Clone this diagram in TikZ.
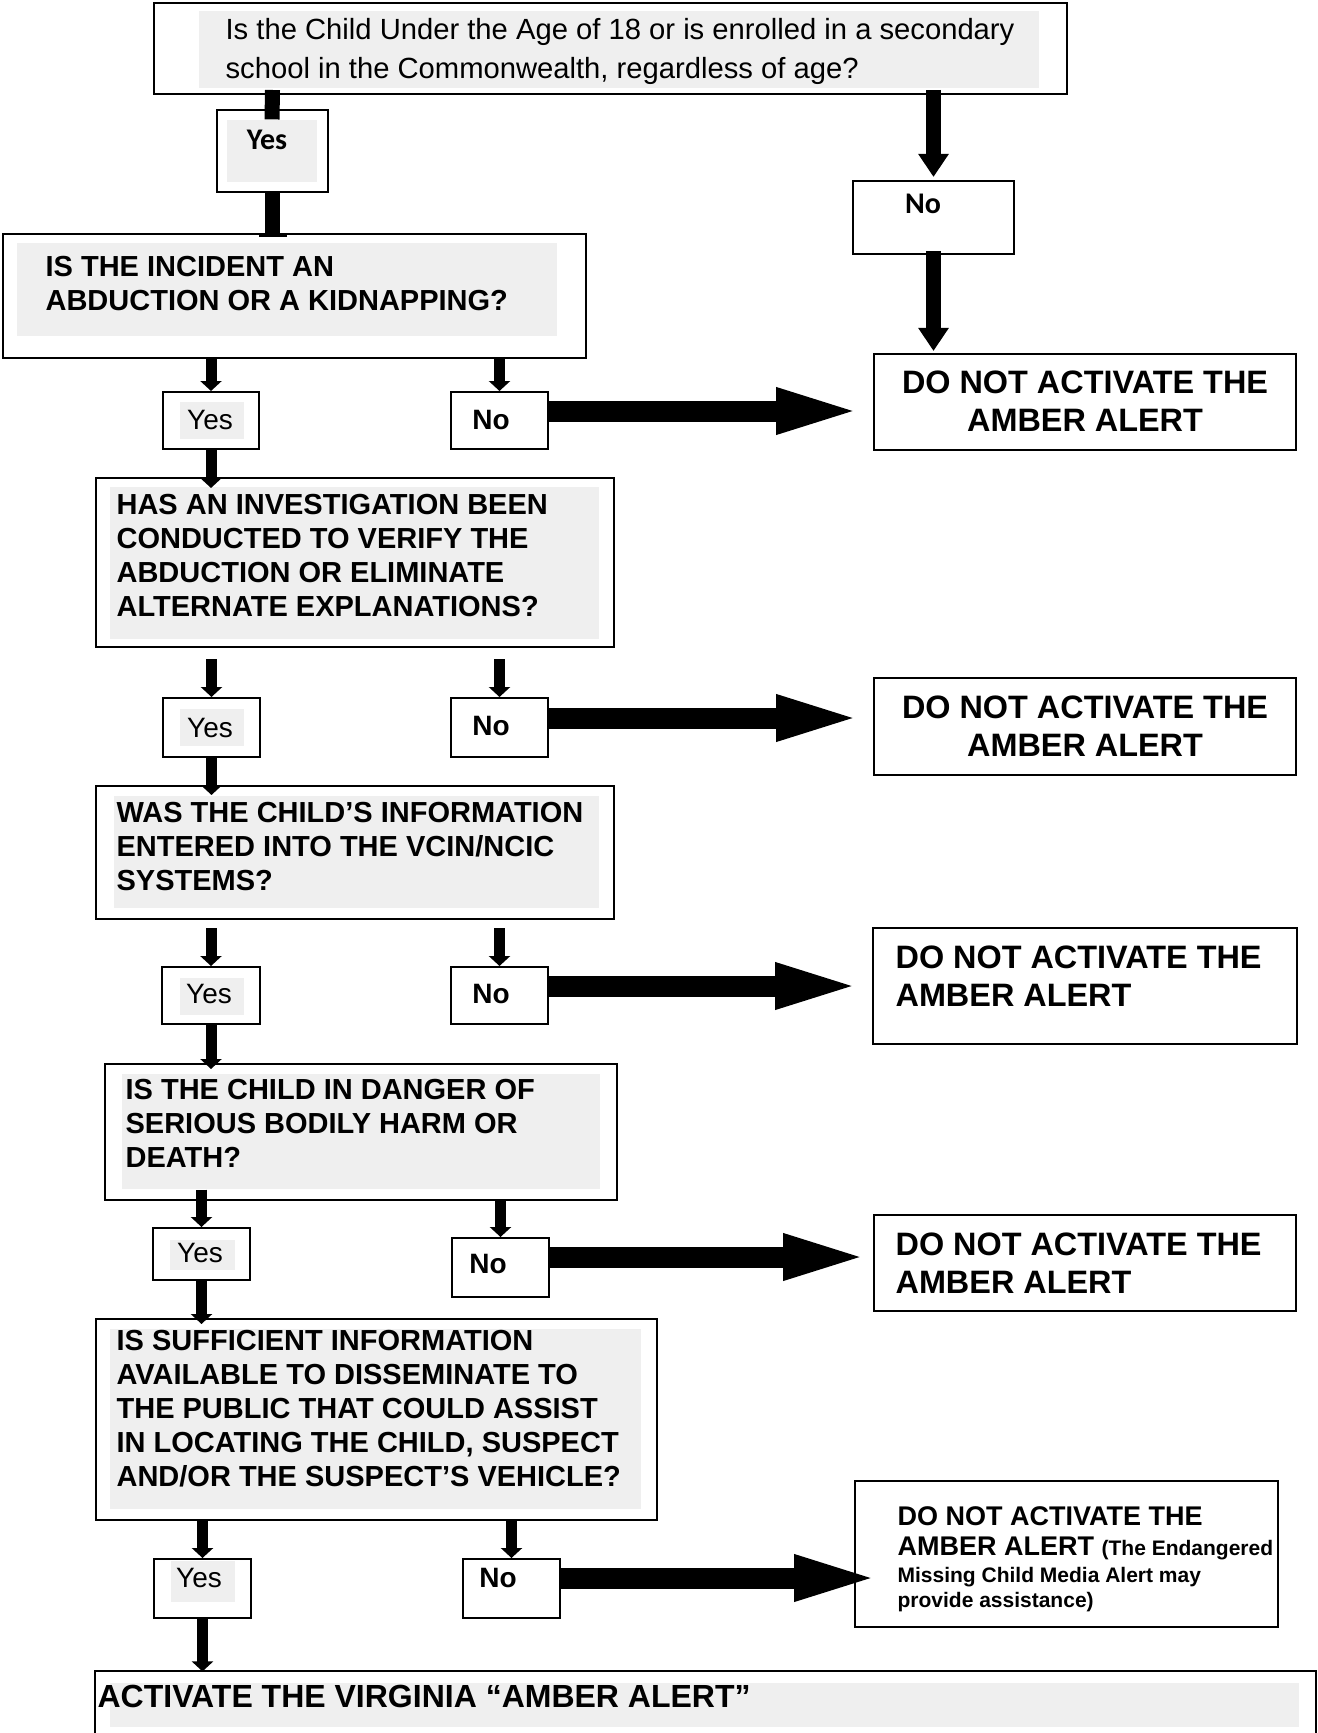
\documentclass[tikz,border=0pt]{standalone}
\usepackage{fontspec}
\setmainfont{Liberation Sans}
\newfontfamily\calibrifont{Carlito}
\usepackage{xcolor}
\usetikzlibrary{arrows.meta,fit}
\definecolor{boxgray}{RGB}{239,239,239}

\begin{document}
\begin{tikzpicture}[x=0.5pt,y=-0.5pt,semithick]

    \tikzstyle{boxframe}=[draw, line width=1pt, inner sep=0pt]
    \tikzstyle{grayband}=[fill=boxgray, inner sep=0pt]
    \tikzstyle{question}=[inner sep=0pt, anchor=west, align=left, font=\fontsize{14.5}{17}\selectfont\bfseries]
    \tikzstyle{verdict}=[inner sep=0pt, align=center, font=\fontsize{16.2}{19}\selectfont\bfseries]
    \tikzstyle{yestext}=[inner sep=0pt, font=\fontsize{14}{16}\selectfont]
    \tikzstyle{notext}=[yestext, font=\fontsize{14}{16}\selectfont\bfseries]
    \tikzstyle{toptext}=[inner sep=0pt, font=\calibrifont\fontsize{15}{17}\selectfont\bfseries]
    \tikzstyle{stemline}=[line width=7.5pt] % the plain bars under the first question
    \tikzstyle{toparrow}=[stemline, -{Triangle[width=14.5pt,length=11.5pt]}]
    \tikzstyle{smallarrow}=[line width=5.5pt, -{Triangle[width=10.5pt,length=5pt]}]
    \tikzstyle{bigarrow}=[line width=10.5pt, -{Triangle[width=20pt,length=45pt]}]

    \def \lift {4.75pt} % big arrows sit a bit above the middle of the No box

    \useasboundingbox (0,0) rectangle (1317,1733);

    % first question and its two answers
    \node[boxframe, fit={(154,3) (1067,94)}] (q0) {};
    \node[grayband, fit={(199,11) (1039,88)}] (q0g) {};
    \node[inner sep=0pt, anchor=west, align=left, font=\fontsize{14.6}{19.4}\selectfont] (q0t) at (225,51.5) {Is the Child Under the Age of 18 or is enrolled in a secondary\\school in the Commonwealth, regardless of age?};
    \node[boxframe, fit={(217,110) (328,192)}] (yes0) {};
    \node[grayband, fit={(227,120) (317,182)}] (yes0g) {};
    \node[toptext] (yes0t) at (267,140) {Yes};
    \node[boxframe, fit={(853,181) (1014,254)}] (no0) {};
    \node[toptext] (no0t) at (923,204) {No};

    % the questions
    \node[boxframe, fit={(3,234) (586,358)}] (q1) {};
    \node[grayband, fit={(17,243) (557,336)}] (q1g) {};
    \node[question] (q1t) at (45,283.5) {IS THE INCIDENT AN\\ABDUCTION OR A KIDNAPPING?};

    \node[boxframe, fit={(96,478) (614,647)}] (q2) {};
    \node[grayband, fit={(110,487) (599,639)}] (q2g) {};
    \node[question] (q2t) at (116,556) {HAS AN INVESTIGATION BEEN\\CONDUCTED TO VERIFY THE\\ABDUCTION OR ELIMINATE\\ALTERNATE EXPLANATIONS?};

    \node[boxframe, fit={(96,786) (614,919)}] (q3) {};
    \node[grayband, fit={(114,796) (599,908)}] (q3g) {};
    \node[question] (q3t) at (116,846.5) {WAS THE CHILD’S INFORMATION\\ENTERED INTO THE VCIN/NCIC\\SYSTEMS?};

    \node[boxframe, fit={(105,1064) (617,1200)}] (q4) {};
    \node[grayband, fit={(122,1074) (600,1189)}] (q4g) {};
    \node[question] (q4t) at (125,1123.5) {IS THE CHILD IN DANGER OF\\SERIOUS BODILY HARM OR\\DEATH?};

    \node[boxframe, fit={(96,1319) (657,1520)}] (q5) {};
    \node[grayband, fit={(110,1329) (641,1509)}] (q5g) {};
    \node[question] (q5t) at (116,1408.5) {IS SUFFICIENT INFORMATION\\AVAILABLE TO DISSEMINATE TO\\THE PUBLIC THAT COULD ASSIST\\IN LOCATING THE CHILD, SUSPECT\\AND/OR THE SUSPECT’S VEHICLE?};

    % yes / no boxes
    \node[boxframe, fit={(163,392) (259,449)}] (yes1) {};
    \node[grayband, fit={(180,402) (244,439)}] (yes1g) {};
    \node[yestext] (yes1t) at (210,420) {Yes};
    \node[boxframe, fit={(451,392) (548,449)}] (no1) {};
    \node[notext] (no1t) at (491,420) {No};

    \node[boxframe, fit={(163,698) (260,757)}] (yes2) {};
    \node[grayband, fit={(180,709) (244,746)}] (yes2g) {};
    \node[yestext] (yes2t) at (210,728) {Yes};
    \node[boxframe, fit={(451,698) (548,757)}] (no2) {};
    \node[notext] (no2t) at (491,726) {No};

    \node[boxframe, fit={(162,967) (260,1024)}] (yes3) {};
    \node[grayband, fit={(180,978) (244,1015)}] (yes3g) {};
    \node[yestext] (yes3t) at (209,994) {Yes};
    \node[boxframe, fit={(451,967) (548,1024)}] (no3) {};
    \node[notext] (no3t) at (491,994) {No};

    \node[boxframe, fit={(153,1228) (250,1280)}] (yes4) {};
    \node[grayband, fit={(170,1240) (235,1270)}] (yes4g) {};
    \node[yestext] (yes4t) at (200,1253) {Yes};
    \node[boxframe, fit={(452,1238) (549,1297)}] (no4) {};
    \node[notext] (no4t) at (488,1264) {No};

    \node[boxframe, fit={(154,1559) (251,1618)}] (yes5) {};
    \node[grayband, fit={(171,1561) (235,1602)}] (yes5g) {};
    \node[yestext] (yes5t) at (199,1578) {Yes};
    \node[boxframe, fit={(463,1559) (560,1618)}] (no5) {};
    \node[notext] (no5t) at (498,1578) {No};

    % the verdicts
    \node[boxframe, fit={(874,354) (1296,450)}] (d1) {};
    \node[verdict] (d1t) at (1085,401) {DO NOT ACTIVATE THE\\AMBER ALERT};
    \node[boxframe, fit={(874,678) (1296,775)}] (d2) {};
    \node[verdict] (d2t) at (1085,726) {DO NOT ACTIVATE THE\\AMBER ALERT};
    \node[boxframe, fit={(873,928) (1297,1044)}] (d3) {};
    \node[verdict, anchor=west, align=left] (d3t) at (895,976) {DO NOT ACTIVATE THE\\AMBER ALERT};
    \node[boxframe, fit={(874,1215) (1296,1311)}] (d4) {};
    \node[verdict, anchor=west, align=left] (d4t) at (895,1263.5) {DO NOT ACTIVATE THE\\AMBER ALERT};
    \node[boxframe, fit={(855,1481) (1278,1627)}] (d5) {};
    \node[verdict, anchor=west, align=left, font=\fontsize{13.5}{15}\selectfont\bfseries] (d5t) at (897,1559) {DO NOT ACTIVATE THE\\AMBER ALERT {\fontsize{10.5}{13}\selectfont (The Endangered}\\[-1.5pt]{\fontsize{10.5}{13}\selectfont Missing Child Media Alert may}\\[-2.5pt]{\fontsize{10.5}{13}\selectfont provide assistance)}};

    % the last box runs off the bottom of the page
    \node[fit={(96,1672) (1315,1733)}, inner sep=0pt] (act) {};
    \node[grayband, fit={(110,1683) (1299,1727)}] (actg) {};
    \draw[line width=1pt] (act.south west) |- (act.north east) -- (act.south east);
    \node[inner sep=0pt, anchor=west, font=\fontsize{16}{19}\selectfont\bfseries] (actt) at (97,1696) {ACTIVATE THE VIRGINIA “AMBER ALERT”};

    % connectors of the first question
    \draw[stemline] (yes0.north |- q0.south) ++(0,-5) -- (yes0g.north);
    \draw[stemline, -{Bar[width=14pt,line width=1.5pt]}, shorten >=-2pt] (yes0.south) -- (yes0.south |- q1.north);
    \draw[toparrow] (no0.north |- q0.south) ++(0,-5) -- ([yshift=1.5pt]no0.north);
    \draw[toparrow] (no0.south) ++(0,-4) -- ([yshift=1pt]no0.south |- d1.north);

    % down the yes side
    \draw[smallarrow] (yes1.north |- q1.south) -- (yes1.north);
    \draw[smallarrow, shorten >=-5.5pt] (yes1.south) -- (yes1.south |- q2.north);
    \draw[smallarrow, shorten <=5.5pt] (yes2.north |- q2.south) -- (yes2.north);
    \draw[smallarrow, shorten >=-5pt] (yes2.south) -- (yes2.south |- q3.north);
    \draw[smallarrow, shorten <=4pt] (yes3.north |- q3.south) -- (yes3.north);
    \draw[smallarrow, shorten >=-3pt] (yes3.south) -- (yes3.south |- q4.north);
    \draw[smallarrow] (yes4.north |- q4g.south) -- (yes4.north);
    \draw[smallarrow, shorten >=-3pt] (yes4.south) -- (yes4.south |- q5.north);
    \draw[smallarrow] (yes5.north |- q5.south) -- (yes5.north);
    \draw[smallarrow] (yes5.south) -- (yes5.south |- act.north);

    % into the no boxes
    \draw[smallarrow] (no1.north |- q1.south) -- (no1.north);
    \draw[smallarrow, shorten <=5.5pt] (no2.north |- q2.south) -- (no2.north);
    \draw[smallarrow, shorten <=4pt] (no3.north |- q3.south) -- (no3.north);
    \draw[smallarrow] (no4.north |- q4.south) -- (no4.north);
    \draw[smallarrow] (no5.north |- q5.south) -- (no5.north);

    % the wide arrows out to the verdicts
    \draw[bigarrow, shorten >=3.5pt] ([yshift=\lift]no1.east) -- ([yshift=\lift]no1.east -| d1.west);
    \draw[bigarrow, shorten >=3.5pt] ([yshift=\lift]no2.east) -- ([yshift=\lift]no2.east -| d2.west);
    \draw[bigarrow, shorten >=3.5pt] ([yshift=\lift]no3.east) -- ([yshift=\lift]no3.east -| d3.west);
    \draw[bigarrow] ([yshift=5.25pt]no4.east) -- ([yshift=5.25pt]no4.east -| d4.west);
    \draw[bigarrow, shorten >=-15pt] ([yshift=5.25pt]no5.east) -- ([yshift=5.25pt]no5.east -| d5.west);

\end{tikzpicture}
\end{document}
